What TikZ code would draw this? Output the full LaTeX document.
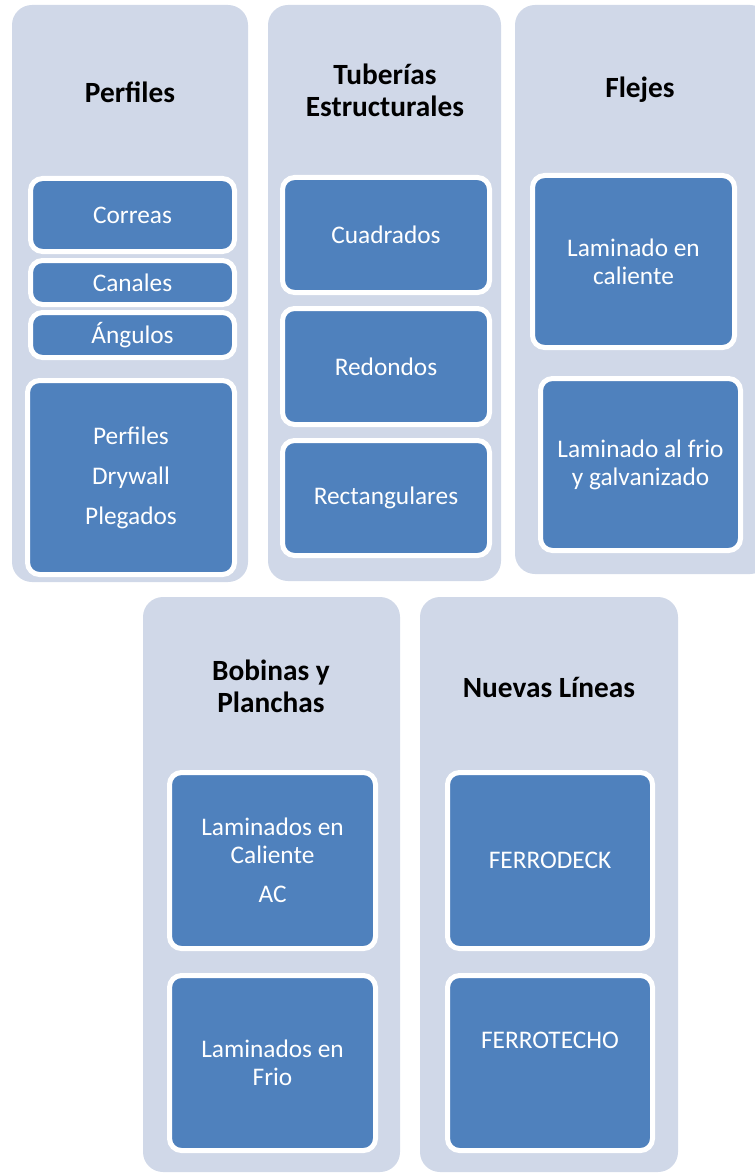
\documentclass[tikz,border=0pt]{standalone}
\usepackage{fontspec}
\setmainfont{Carlito}
\usepackage{tikz}
\definecolor{panelgray}{HTML}{D0D8E8}
\definecolor{itemblue}{HTML}{4F81BD}

\begin{document}
\begin{tikzpicture}[
  x=0.75pt, y=-0.75pt,
  panel/.style={fill=panelgray, rounded corners=15pt},
  title/.style={font=\fontsize{22}{24}\selectfont\bfseries, align=center, text=black},
  itemtext/.style={text=white, align=center, font=\fontsize{19}{21}\selectfont},
  item/.style 2 args={rectangle, rounded corners=9pt, fill=itemblue, draw=white,
    line width=3.75pt, inner sep=0pt, itemtext,
    minimum width={(#1-5)*0.75pt}, minimum height={(#2-5)*0.75pt}}]
\useasboundingbox (0,0) rectangle (754,1173);

% columns
\path[panel] (12,5) rectangle (248,582);
\path[panel] (268,5) rectangle (501,581);
\path[panel] (515,5) rectangle (770,574);
\path[panel] (143,597) rectangle (400,1172);
\path[panel] (420,597) rectangle (678,1172);

% headings
\node[title] (perfiles) at (130,92) {Perfiles};
\node[title] (tuberias) at (385,90) {Tuberías\\Estructurales};
\node[title] (flejes) at (640,90) {Flejes};
\node[title] (bobinas) at (271,686) {Bobinas y\\Planchas};
\node[title] (nuevas) at (549,687) {Nuevas Líneas};

% items
\node[item={209}{78}] (correas) at (132.5,215) {Correas};
\node[item={209}{49}] (canales) at (132.5,282.5) {Canales};
\node[item={209}{50}] (angulos) at (132.5,335) {Ángulos};
\node[item={212}{199}] (drywall) at (131,477.5) {Perfiles\\[9pt]Drywall\\[9pt]Plegados};

\node[item={212}{120}] (cuadrados) at (386,235) {Cuadrados};
\node[item={212}{121}] (redondos) at (386,366.5) {Redondos};
\node[item={212}{120}] (rectangulares) at (386,498) {Rectangulares};

\node[item={207}{177}] (caliente) at (633.5,261.5) {Laminado en\\caliente};
\node[item={205}{177}] (frio) at (640.5,464.5) {Laminado al frio\\y galvanizado};

\node[item={211}{181}] (lamcaliente) at (272.5,860.5) {Laminados en\\Caliente\\[8pt]AC};
\node[item={211}{180}] (lamfrio) at (272.5,1063) {Laminados en\\Frio};

\node[item={210}{181}] (ferrodeck) at (550,860.5) {FERRODECK};
\node[item={210}{180}] (ferrotecho) at (550,1063) {};
\node[itemtext] (ferrotechotext) at (550,1040) {FERROTECHO};
\end{tikzpicture}
\end{document}
